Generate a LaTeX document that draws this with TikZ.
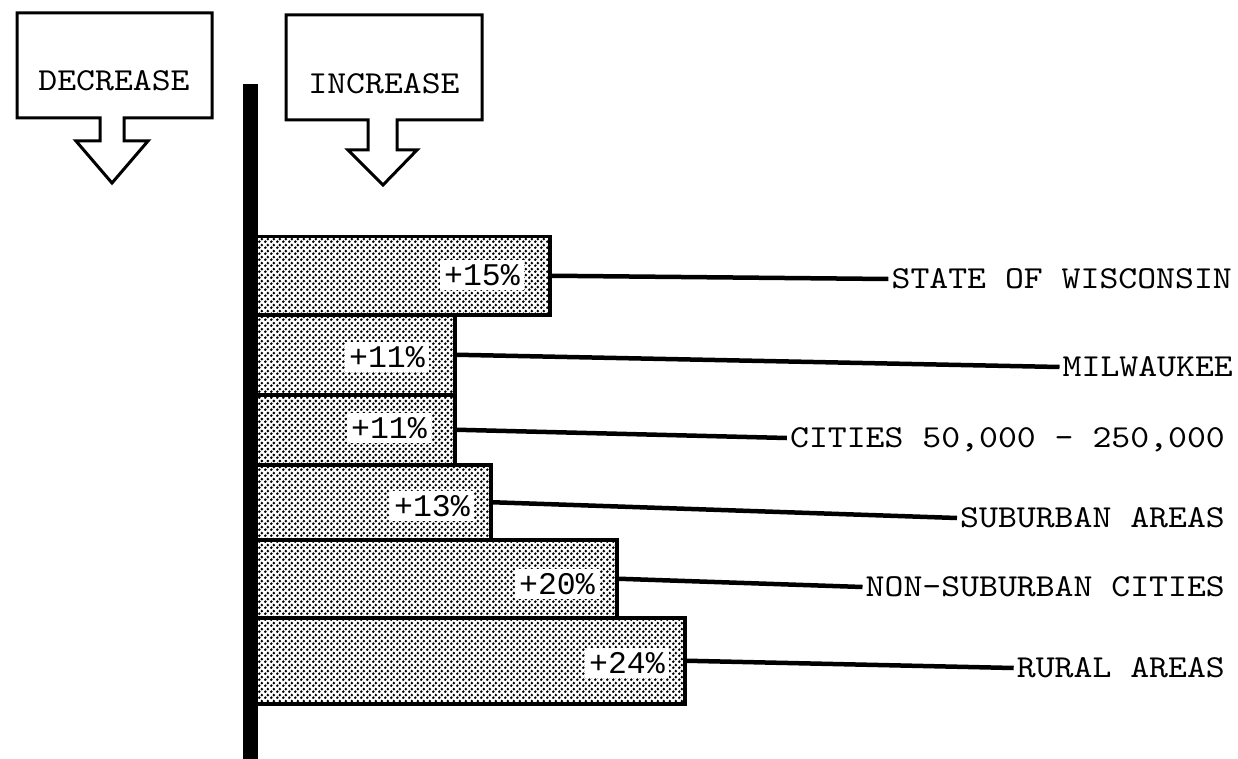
\documentclass[tikz,border=0pt]{standalone}
\usepackage{fontspec}
\newfontfamily\tw{lmmono10-regular.otf}[FakeStretch=1.125]
\newfontfamily\pcfont{Liberation Mono}
\usetikzlibrary{patterns}
\pgfdeclarepatternformonly{halftone}{\pgfqpoint{0pt}{0pt}}{\pgfqpoint{6pt}{6pt}}{\pgfqpoint{6pt}{6pt}}{%
  \pgfpathcircle{\pgfqpoint{1.5pt}{1.5pt}}{1.7pt}%
  \pgfpathcircle{\pgfqpoint{4.5pt}{4.5pt}}{1.7pt}%
  \pgfusepath{fill}}
\begin{document}
\begin{tikzpicture}[x=1pt,y=-1pt,
  twfont/.style={font=\tw\fontsize{32}{34}\selectfont},
  bar/.style={draw=black, line width=3.5pt, pattern=halftone, anchor=north west, inner sep=0pt},
  pct/.style={font=\pcfont\fontsize{31.5}{32}\selectfont, fill=white, inner xsep=4pt, inner ysep=5pt, text height=20pt, text depth=0pt, anchor=east},
  lab/.style={twfont, inner xsep=3pt, inner ysep=0pt, text height=19pt, text depth=0pt, anchor=east},
  boxtext/.style={twfont, inner sep=0pt, text height=19pt, text depth=0pt},
  conn/.style={line width=4.5pt},
  outline/.style={line width=3pt, line join=miter}]
\fill[white] (0,0) rectangle (1238,759);
\useasboundingbox (0,0) rectangle (1238,759);

% header boxes with arrows
\draw[outline] (17,13) -- (212,13) -- (212,118) -- (124,118) -- (124,141) -- (148,141)
  -- (112,183) -- (76,141) -- (100,141) -- (100,118) -- (17,118) -- cycle;
\node[boxtext] (dec) at (114,81) {DECREASE};
\draw[outline] (286,15) -- (482,15) -- (482,120) -- (397,120) -- (397,150) -- (417,150)
  -- (383,185) -- (348,150) -- (368,150) -- (368,120) -- (286,120) -- cycle;
\node[boxtext] (inc) at (384,84) {INCREASE};

% bars
\node[bar, minimum width=298pt, minimum height=78pt] (b1) at (250,235) {};
\node[bar, minimum width=203pt, minimum height=80pt] (b2) at (250,313) {};
\node[bar, minimum width=203pt, minimum height=70pt] (b3) at (250,393) {};
\node[bar, minimum width=239pt, minimum height=75pt] (b4) at (250,463) {};
\node[bar, minimum width=365pt, minimum height=78pt] (b5) at (250,538) {};
\node[bar, minimum width=433pt, minimum height=86pt] (b6) at (250,616) {};

% axis
\fill[black] (243,84) rectangle (258,759);

% percentages
\node[pct] (p1) at (524,275) {+15\%};
\node[pct] (p2) at (429,357) {+11\%};
\node[pct] (p3) at (431,428) {+11\%};
\node[pct] (p4) at (474,506) {+13\%};
\node[pct] (p5) at (599,584) {+20\%};
\node[pct] (p6) at (669,663) {+24\%};

% labels
\node[lab] (l1) at (1235,279) {STATE OF WISCONSIN};
\node[lab] (l2) at (1236,367) {MILWAUKEE};
\node[lab] (l3) at (1228,438) {CITIES 50,000 - 250,000};
\node[lab] (l4) at (1228,518) {SUBURBAN AREAS};
\node[lab] (l5) at (1228,587) {NON-SUBURBAN CITIES};
\node[lab] (l6) at (1228,668) {RURAL AREAS};

% connectors
\draw[conn] (b1.east) -- (l1.west);
\draw[conn] (b2.east) -- (l2.west);
\draw[conn] (b3.east) -- (l3.west);
\draw[conn] (b4.east) -- (l4.west);
\draw[conn] (b5.east) -- (l5.west);
\draw[conn] (b6.east) -- (l6.west);
\end{tikzpicture}
\end{document}
